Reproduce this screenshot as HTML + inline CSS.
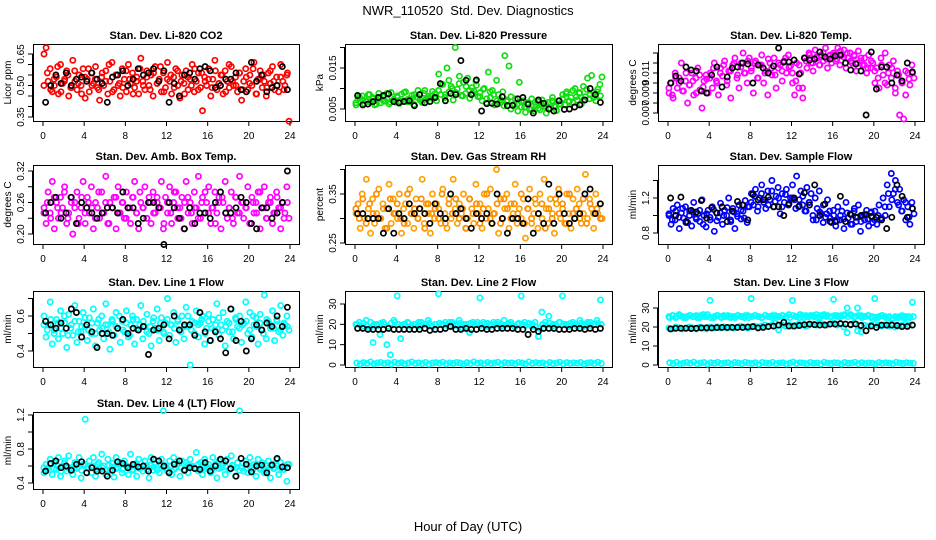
<!DOCTYPE html>
<html><head><meta charset="utf-8"><title>NWR_110520 Std. Dev. Diagnostics</title>
<style>
html,body{margin:0;padding:0;background:#fff;}
svg{display:block;font-family:"Liberation Sans",Arial,sans-serif;}
.ttl{font-size:11px;font-weight:bold;text-anchor:middle;}
.tk{font-size:10px;text-anchor:middle;}
.yl{font-size:10px;text-anchor:middle;}
</style></head>
<body>
<svg id="chart" width="936" height="540" viewBox="0 0 936 540" xmlns="http://www.w3.org/2000/svg">
<rect x="0" y="0" width="936" height="540" fill="#fff"/>
<text x="468" y="15" font-size="13" text-anchor="middle" xml:space="preserve">NWR_110520  Std. Dev. Diagnostics</text>
<text x="468" y="531" font-size="13" text-anchor="middle">Hour of Day (UTC)</text>
</svg>
<script>
const xTickValues=[0,4,8,12,16,20,24];
const co2Vals=[0.65,0.68,0.52,0.58,0.47,0.50,0.54,0.46,0.60,0.51,0.53,0.57,0.45,0.49,0.62,0.52,0.48,0.55,0.50,0.58,0.44,0.53,0.47,0.56,0.51,0.59,0.49,0.43,0.54,0.50,0.57,0.46,0.52,0.61,0.48,0.55,0.50,0.45,0.58,0.53,0.47,0.60,0.51,0.56,0.49,0.54,0.46,0.63,0.52,0.48,0.57,0.50,0.55,0.45,0.59,0.51,0.53,0.47,0.56,0.49,0.61,0.52,0.46,0.54,0.58,0.50,0.44,0.55,0.51,0.57,0.48,0.53,0.60,0.47,0.52,0.56,0.49,0.38,0.54,0.50,0.58,0.45,0.53,0.62,0.48,0.51,0.55,0.46,0.57,0.52,0.49,0.59,0.50,0.54,0.47,0.56,0.43,0.52,0.58,0.48,0.55,0.50,0.61,0.46,0.53,0.57,0.49,0.52,0.45,0.56,0.51,0.59,0.48,0.54,0.47,0.60,0.52,0.50,0.55,0.33];
const co2Vals2=[0.50,0.56,0.48,0.53,0.59,0.47,0.52,0.55,0.49,0.57,0.51,0.46,0.54,0.58,0.50,0.53,0.48,0.56,0.52,0.60,0.47,0.55,0.51,0.49,0.57,0.53,0.46,0.52,0.58,0.50,0.54,0.48,0.56,0.51,0.59,0.47,0.53,0.55,0.49,0.57,0.52,0.46,0.54,0.50,0.58,0.48,0.56,0.52,0.53,0.49,0.57,0.51,0.55,0.47,0.60,0.52,0.50,0.56,0.48,0.54,0.51,0.58,0.46,0.53,0.55,0.49,0.57,0.52,0.50,0.54,0.48,0.56];
const co2Black=[0.42,0.50,0.55,0.51,0.56,0.50,0.53,0.54,0.52,0.56,0.53,0.51,0.42,0.54,0.55,0.57,0.50,0.53,0.58,0.55,0.56,0.58,0.52,0.57,0.42,0.51,0.45,0.55,0.56,0.53,0.58,0.59,0.57,0.49,0.50,0.53,0.53,0.56,0.48,0.47,0.61,0.52,0.55,0.47,0.49,0.50,0.59,0.48];
const presVals=[.0060,.0075,.0068,.0082,.0063,.0070,.0085,.0066,.0078,.0060,.0072,.0088,.0065,.0080,.0069,.0074,.0062,.0090,.0071,.0067,.0078,.0064,.0086,.0070,.0092,.0068,.0075,.0083,.0061,.0079,.0095,.0072,.0066,.0088,.0074,.0081,.0069,.0093,.0077,.0070,.0135,.0085,.0110,.0078,.0150,.0092,.0105,.0072,.0200,.0098,.0130,.0083,.0115,.0088,.0125,.0076,.0102,.0094,.0118,.0080,.0090,.0070,.0100,.0065,.0140,.0078,.0095,.0060,.0120,.0085,.0072,.0092,.0180,.0068,.0155,.0080,.0058,.0075,.0062,.0115,.0055,.0070,.0042,.0065,.0050,.0075,.0045,.0060,.0068,.0048,.0072,.0056,.0040,.0066,.0052,.0078,.0058,.0046,.0070,.0062,.0085,.0060,.0092,.0070,.0078,.0065,.0100,.0072,.0088,.0062,.0105,.0080,.0125,.0075,.0132,.0090,.0070,.0098,.0110,.0128];
const presVals2=[.0065,.0080,.0072,.0068,.0085,.0075,.0062,.0078,.0070,.0088,.0066,.0074,.0082,.0069,.0090,.0073,.0067,.0085,.0078,.0071,.0095,.0076,.0082,.0088,.0095,.0110,.0085,.0120,.0100,.0090,.0112,.0082,.0105,.0095,.0088,.0108,.0080,.0098,.0075,.0092,.0085,.0070,.0065,.0058,.0072,.0050,.0062,.0045,.0068,.0055,.0060,.0048,.0066,.0052,.0058,.0064,.0050,.0070,.0056,.0062,.0075,.0088,.0068,.0095,.0080,.0090,.0072,.0098,.0085,.0078,.0092,.0082];
const presBlack=[.0083,.0060,.0062,.0068,.0078,.0083,.0087,.0068,.0065,.0068,.0070,.0058,.0085,.0065,.0068,.0078,.0112,.0070,.0088,.0085,.0168,.0120,.0085,.0121,.0045,.0063,.0064,.0062,.0080,.0058,.0059,.0075,.0078,.0062,.0040,.0072,.0064,.0050,.0045,.0070,.0049,.0050,.0055,.0060,.0072,.0100,.0085,.0066];
const tempVals=[.0090,.0100,.0085,.0110,.0095,.0105,.0120,.0092,.0102,.0080,.0098,.0110,.0088,.0105,.0115,.0093,.0075,.0102,.0108,.0090,.0110,.0095,.0120,.0102,.0088,.0115,.0107,.0122,.0098,.0112,.0085,.0118,.0125,.0105,.0095,.0120,.0130,.0110,.0100,.0125,.0115,.0090,.0122,.0105,.0118,.0128,.0100,.0112,.0088,.0120,.0108,.0125,.0095,.0115,.0118,.0102,.0122,.0110,.0128,.0117,.0100,.0088,.0120,.0095,.0110,.0085,.0125,.0115,.0130,.0120,.0112,.0133,.0125,.0118,.0128,.0122,.0135,.0115,.0127,.0120,.0130,.0122,.0135,.0118,.0128,.0133,.0115,.0125,.0130,.0120,.0127,.0112,.0132,.0122,.0118,.0125,.0110,.0128,.0115,.0120,.0100,.0115,.0095,.0125,.0108,.0130,.0098,.0118,.0105,.0122,.0090,.0112,.0068,.0102,.0064,.0088,.0110,.0098,.0118,.0105];
const tempVals2=[.0095,.0088,.0105,.0100,.0092,.0110,.0098,.0102,.0090,.0108,.0096,.0104,.0105,.0115,.0100,.0110,.0118,.0102,.0112,.0120,.0108,.0116,.0110,.0122,.0112,.0120,.0105,.0118,.0110,.0124,.0115,.0108,.0120,.0112,.0125,.0116,.0110,.0102,.0118,.0095,.0122,.0128,.0120,.0126,.0118,.0130,.0124,.0128,.0128,.0124,.0132,.0126,.0130,.0122,.0128,.0120,.0125,.0118,.0115,.0122,.0112,.0105,.0118,.0100,.0110,.0115,.0095,.0108,.0100,.0112,.0104,.0110];
const tempBlack=[.0100,.0107,.0102,.0116,.0113,.0112,.0092,.0090,.0108,.0116,.0096,.0106,.0115,.0116,.0120,.0119,.0100,.0118,.0115,.0110,.0117,.0135,.0121,.0121,.0123,.0109,.0125,.0123,.0124,.0131,.0126,.0124,.0127,.0128,.0120,.0113,.0119,.0112,.0068,.0131,.0094,.0116,.0116,.0100,.0108,.0102,.0120,.0111];
const boxVals=[.25,.22,.28,.24,.30,.21,.26,.23,.27,.25,.29,.22,.24,.27,.20,.26,.28,.23,.25,.30,.22,.27,.24,.29,.21,.26,.25,.23,.28,.24,.31,.22,.26,.25,.27,.21,.29,.24,.26,.23,.28,.25,.22,.27,.30,.24,.21,.26,.25,.29,.23,.27,.22,.28,.24,.26,.25,.30,.21,.27,.24,.29,.22,.26,.28,.23,.25,.27,.21,.30,.24,.26,.22,.28,.25,.31,.23,.27,.24,.26,.29,.22,.25,.28,.24,.27,.21,.26,.30,.23,.25,.28,.22,.27,.24,.31,.26,.23,.25,.29,.22,.27,.24,.26,.28,.21,.25,.29,.23,.26,.27,.22,.24,.28,.25,.21,.26,.24,.29,.23];
const boxVals2=[.24,.26,.23,.27,.25,.24,.28,.23,.26,.25,.22,.27,.24,.26,.25,.23,.28,.24,.26,.22,.25,.27,.24,.26,.23,.25,.27,.24,.28,.25,.23,.26,.24,.27,.25,.22,.26,.24,.28,.25,.23,.26,.27,.24,.25,.23,.26,.28,.24,.25,.22,.26,.27,.24,.25,.23,.27,.24,.26,.25,.22,.26,.24,.28,.25,.23,.26,.24,.27,.25,.23,.26];
const boxBlack=[.24,.26,.27,.23,.24,.27,.22,.26,.25,.24,.23,.24,.25,.25,.24,.28,.25,.25,.22,.23,.26,.26,.25,.18,.26,.25,.23,.21,.25,.22,.24,.24,.23,.26,.28,.24,.24,.25,.27,.26,.22,.21,.25,.25,.23,.24,.26,.32];
const rhVals=[.31,.33,.28,.35,.30,.38,.32,.27,.34,.29,.31,.36,.30,.33,.28,.32,.37,.29,.34,.31,.30,.35,.27,.32,.33,.29,.36,.31,.28,.34,.30,.32,.38,.29,.33,.31,.27,.35,.30,.33,.32,.29,.36,.31,.28,.34,.30,.38,.32,.29,.33,.31,.35,.28,.30,.34,.32,.29,.37,.31,.33,.28,.35,.30,.32,.36,.29,.31,.40,.27,.34,.30,.32,.35,.28,.33,.31,.37,.29,.32,.30,.34,.26,.32,.36,.29,.31,.33,.28,.35,.30,.38,.32,.29,.34,.31,.27,.33,.36,.30,.32,.29,.35,.31,.28,.34,.30,.36,.33,.29,.31,.39,.30,.34,.32,.28,.35,.31,.33,.30];
const rhVals2=[.32,.30,.34,.29,.33,.31,.35,.30,.32,.28,.34,.31,.33,.30,.29,.35,.31,.32,.30,.34,.28,.33,.31,.32,.30,.35,.29,.33,.31,.34,.30,.32,.28,.34,.31,.33,.29,.32,.35,.30,.31,.33,.29,.34,.32,.30,.33,.31,.35,.29,.32,.30,.34,.31,.33,.28,.32,.30,.34,.31,.33,.29,.35,.31,.32,.30,.34,.29,.33,.31,.32,.30];
const rhBlack=[.31,.31,.30,.30,.30,.27,.32,.27,.31,.30,.33,.31,.32,.31,.29,.33,.31,.30,.35,.31,.32,.30,.28,.31,.30,.31,.29,.35,.30,.27,.30,.30,.29,.34,.27,.31,.29,.37,.29,.35,.31,.29,.30,.31,.35,.36,.31,.33];
const flowVals=[1.00,0.90,1.08,0.95,1.12,0.85,1.03,0.97,1.10,0.92,1.05,0.88,1.15,0.98,1.02,0.93,1.18,1.00,0.87,1.06,0.95,1.10,0.82,1.03,0.98,1.14,0.90,1.06,1.00,1.20,0.93,1.08,0.85,1.02,1.12,0.96,1.05,1.17,0.92,1.10,1.25,1.12,1.30,1.05,1.20,1.35,1.15,1.08,1.28,1.18,1.40,1.10,1.22,1.32,1.02,1.25,1.15,1.30,1.12,1.20,1.35,1.18,1.45,1.10,1.28,1.22,1.05,1.32,1.15,1.25,0.95,1.20,1.08,1.28,1.02,1.12,0.98,1.18,1.05,0.92,1.00,0.88,1.10,0.95,1.05,0.85,1.15,0.97,1.02,0.90,1.08,0.93,1.12,0.82,1.00,0.95,1.06,0.88,1.03,0.92,1.05,0.90,1.12,0.97,1.20,1.00,1.35,1.10,1.48,1.25,1.40,1.15,1.30,1.05,1.18,0.95,1.10,0.90,1.15,1.02];
const flowVals2=[1.02,0.95,1.05,0.98,1.08,0.92,1.00,1.04,0.96,1.06,0.90,1.02,0.98,1.07,0.94,1.03,1.00,1.09,0.95,1.04,0.99,1.06,0.97,1.10,1.15,1.22,1.10,1.25,1.18,1.12,1.28,1.16,1.20,1.10,1.24,1.14,1.20,1.08,1.18,1.12,1.05,1.15,1.00,0.95,1.04,0.92,1.02,0.97,1.06,0.94,1.00,0.96,1.03,0.90,1.05,0.98,0.93,1.01,0.96,1.04,0.95,1.00,0.97,1.10,1.25,1.18,1.30,1.12,1.05,1.15,0.98,1.08];
const flowBlack=[1.20,1.00,1.21,0.93,1.06,1.04,1.17,0.97,1.09,1.03,1.10,0.93,1.05,1.16,1.12,0.95,1.24,1.18,1.18,1.21,1.10,1.10,1.00,1.13,1.20,1.11,1.26,1.12,1.35,1.00,1.13,0.93,0.93,1.22,0.93,1.01,0.98,1.00,1.01,0.99,0.98,0.95,0.85,0.98,1.35,1.22,0.98,1.08];
const line1Vals=[.60,.48,.55,.68,.44,.52,.58,.47,.63,.50,.56,.42,.61,.53,.49,.66,.45,.57,.51,.62,.54,.46,.59,.50,.64,.43,.56,.52,.60,.47,.67,.55,.41,.58,.49,.62,.53,.45,.57,.51,.63,.48,.55,.60,.44,.58,.52,.66,.47,.54,.61,.50,.43,.57,.53,.64,.46,.59,.51,.56,.70,.49,.55,.62,.45,.58,.52,.60,.47,.65,.54,.32,.57,.50,.63,.48,.56,.60,.44,.53,.61,.46,.58,.52,.67,.49,.55,.62,.43,.57,.51,.64,.47,.59,.54,.60,.45,.56,.68,.50,.62,.48,.55,.59,.44,.61,.52,.72,.47,.57,.53,.63,.46,.58,.51,.66,.49,.55,.60,.52];
const line1Vals2=[.55,.52,.58,.50,.56,.53,.60,.49,.55,.57,.51,.54,.59,.52,.56,.50,.58,.53,.55,.51,.57,.54,.60,.52,.56,.49,.58,.53,.55,.57,.51,.54,.59,.52,.56,.50,.58,.55,.53,.57,.51,.54,.60,.52,.56,.55,.58,.50,.57,.53,.55,.59,.52,.54,.56,.51,.58,.53,.55,.57,.52,.60,.54,.56,.50,.58,.55,.53,.57,.52,.56,.54];
const line1Black=[.57,.55,.53,.56,.53,.64,.62,.48,.55,.51,.42,.50,.50,.49,.53,.58,.50,.53,.52,.54,.38,.52,.53,.55,.47,.60,.52,.55,.55,.49,.62,.51,.46,.51,.47,.39,.64,.46,.57,.40,.47,.55,.52,.56,.54,.60,.54,.65];
const line2Upper=[20,21,19,22,18,11,20,15,21,10,5,22,34,13,20,21,19,20,19,21,20,22,19,20,35,20,21,19,21,20,22,18,20,16,21,20,33,21,19,20,21,20,19,22,20,21,19,20,34,21,20,19,21,14,26,21,24,19,20,21,34,20,19,21,20,22,19,20,21,20,22,32];
const line2Upper2=[20,19.5,20.5,19,21,20,19.5,20.5,20,19,20.5,21,20,19.5,20,20.5,19.5,20,21,19.5,20,20.5,19,20,20.5,20,19.5,21,20,19.5,20.5,20,19,20.5,20,21,19.5,20,20.5,19.5,20,21,20,19.5,20.5,20,19,20.5,20,19.5,20.5,20,19,18,20,19.5,20.5,20,19.5,21,20,19.5,20.5,20,19,20.5,20,21,19.5,20,20.5,20];
const line2Lower=[1,0.5,1.2,0.8,1.5,0.6,1,1.3,0.7,1.1,0.5,1.4,0.9,1.2,0.6,1,1.5,0.8,1.1,0.7,1.3,0.5,1,1.2,0.9,1.4,0.6,1.1,0.8,1.3,1,0.5,1.2,0.7,1.5,0.9,1.1,0.6,1.3,0.8,1,1.4,0.5,1.2,0.9,1.1,0.7,1.3,1,0.6,1.5,0.8,1.2,0.9,1.1,0.5,1.3,0.7,1,1.4,0.6,1.2,0.8,1.1,0.9,1.3,0.5,1,1.2,0.7,1.4,0.8];
const line2Black=[18,18,17.5,17.5,17.5,17.5,18,17.5,17.5,17.5,17.5,17.5,17.5,18,17,17.5,17.5,18,19,17.5,17.5,18,17.5,17.5,18,17.5,17.5,18,18,18,18,17.5,17.5,15,17.5,16.5,18,18,18,17.5,17.5,17.5,18,18,17.5,18,17.5,18];
const line3Upper=[25.5,26,25,26.5,25.5,25,26,25.5,26,25,26.5,25.5,34,25,26,25.5,26,25.5,25,25.5,26,25.5,25,26,35,26,25.5,25,26,25.5,25,26,25.5,26,25,26.5,34,25.5,25,26,26,25.5,26,26.5,25,26,25.5,25.5,34.5,26,25.5,26,30,26.5,25.5,30,26,25.5,26,25,35,25,26,25.5,25,24,25.5,25,26,25,25.5,33];
const line3Upper2=[25,26,25.5,26,25,25.5,26,25.5,25,26,25.5,26.5,25,25.5,26,25,25.5,26,25.5,25,26,25.5,26,25,25.5,26,25.5,25,26,25.5,26,25,25.5,26,25.5,25,26,25.5,26.5,25,25.5,26,25.5,25,26,26.5,26,25.5,26,25.5,26,26.5,25.5,26,25.5,26,25,25.5,26,25.5,25,25.5,26,25,25.5,24.5,25,25.5,25,25.5,25,25.5];
const line3Mid=[19.5,19,20,19.5,19,19.5,20,19.5,19,20,19.5,19,20,19.5,20,19.5,20,19.5,20,19.5,20,20.5,20,19.5,20,20.5,20,20.5,21,20.5,21,22,18.5,21,20.5,21,20.5,21,21.5,21,20.5,21,21.5,21,22,21.5,21,21.5,22,21,21.5,20,17,21,22,18,17.5,21,20.5,21,21.5,21,20.5,21,20.5,21,20,20.5,21,21.5,21,21];
const line3Lower=[1.2,0.8,1.4,0.6,1,1.3,0.9,1.5,0.7,1.1,1.3,0.5,1.2,0.9,1.4,0.8,1,1.2,0.6,1.3,1.1,0.7,1.4,1,0.8,1.2,0.5,1.3,1,0.9,1.4,0.7,1.1,1.2,0.6,1,1.5,0.8,1.2,1,0.7,1.3,0.9,1.1,0.6,1.4,1,0.8,1.2,1.1,0.5,1.3,0.9,1,1.4,0.7,1.2,0.8,1.1,1,0.6,1.3,0.9,1.2,1,0.7,1.4,1.1,0.8,1.2,1,0.9];
const line3Black=[19,19.3,19.3,19.3,19.2,19.3,19.5,19.6,19.5,19.7,19.8,19.8,19.8,19.8,19.8,20,20.2,19.5,19.8,20.2,20.5,21,22.5,20.5,20.5,20.8,21.2,21.5,21.2,21,21,21.5,21.5,21.8,21.5,21.3,21.5,20.8,18,20.5,19.8,21,21,21,20.8,20.2,20.3,21];
const line4Vals=[.52,.62,.58,.68,.50,.64,.56,.70,.48,.60,.66,.54,.72,.58,.50,.64,.57,.70,.46,.62,1.15,.58,.66,.52,.70,.48,.62,.56,.74,.60,.50,.68,.55,.63,.47,.70,.58,.64,.52,.66,.60,.50,.74,.56,.62,.48,.68,.58,.54,.66,.60,.46,.70,.55,.63,.58,.52,.68,1.25,.60,.54,.66,.50,.70,.58,.62,.48,.66,.56,.64,.52,.68,.60,.58,.76,.54,.64,.50,.68,.57,.62,.52,.70,.60,.46,.66,.58,.63,.50,.68,.56,.72,.60,.48,.64,1.25,.58,.54,.66,.52,.70,.58,.62,.48,.68,.56,.64,.52,.60,.66,.46,.62,.58,.68,.50,.64,.56,.60,.42,.62];
const line4Vals2=[.58,.55,.62,.57,.60,.54,.63,.58,.56,.61,.59,.55,.62,.57,.60,.56,.64,.58,.55,.61,.59,.57,.62,.56,.60,.58,.55,.63,.57,.60,.56,.61,.59,.55,.62,.58,.57,.60,.56,.63,.58,.55,.61,.59,.57,.62,.56,.60,.58,.55,.62,.57,.60,.59,.56,.61,.58,.55,.63,.57,.60,.56,.62,.58,.59,.55,.61,.57,.60,.58,.56,.62];
const line4Black=[.54,.63,.66,.58,.60,.55,.62,.65,.52,.58,.54,.54,.48,.55,.65,.63,.58,.62,.59,.60,.54,.68,.66,.60,.52,.62,.66,.55,.58,.57,.56,.64,.54,.60,.68,.66,.57,.48,.69,.62,.53,.60,.61,.52,.61,.69,.59,.58];
</script>
<script>
const SVGNS="http://www.w3.org/2000/svg";
const svg=document.getElementById('chart');
const colL=[33,345,658], colR=[299,612,924];
const rowT=[44,165,291,412], rowB=[121,244,367,489];
const panels=[
 {name:'co2',title:'Stan. Dev. Li-820 CO2',ylab:'Licor ppm',c:0,r:0,vA:0.35,pA:117,vB:0.65,pB:54,ticks:[0.35,0.40,0.45,0.50,0.55,0.60,0.65],labels:['0.35','0.50','0.65'],labelVals:[0.35,0.50,0.65],series:[[co2Vals,'#ff0000'],[co2Vals2,'#ff0000']],black:co2Black},
 {name:'pressure',title:'Stan. Dev. Li-820 Pressure',ylab:'kPa',c:1,r:0,vA:0.005,pA:109,vB:0.015,pB:68,ticks:[0.005,0.010,0.015,0.020],labels:['0.005','0.015'],labelVals:[0.005,0.015],series:[[presVals,'#11dd11'],[presVals2,'#11dd11']],black:presBlack},
 {name:'li820-temp',title:'Stan. Dev. Li-820 Temp.',ylab:'degrees C',c:2,r:0,vA:0.007,pA:113,vB:0.011,pB:73,ticks:[0.007,0.008,0.009,0.010,0.011,0.012,0.013],labels:['0.007','0.009','0.011'],labelVals:[0.007,0.009,0.011],series:[[tempVals,'#ff00ff'],[tempVals2,'#ff00ff']],black:tempBlack},
 {name:'amb-box-temp',title:'Stan. Dev. Amb. Box Temp.',ylab:'degrees C',c:0,r:1,vA:0.20,pA:234,vB:0.32,pB:171,ticks:[0.20,0.23,0.26,0.29,0.32],labels:['0.20','0.26','0.32'],labelVals:[0.20,0.26,0.32],series:[[boxVals,'#ff00ff'],[boxVals2,'#ff00ff']],black:boxBlack},
 {name:'gas-stream-rh',title:'Stan. Dev. Gas Stream RH',ylab:'percent',c:1,r:1,vA:0.25,pA:243,vB:0.35,pB:194,ticks:[0.25,0.30,0.35,0.40],labels:['0.25','0.35'],labelVals:[0.25,0.35],series:[[rhVals,'#ffa000'],[rhVals2,'#ff8c00']],black:rhBlack},
 {name:'sample-flow',title:'Stan. Dev. Sample Flow',ylab:'ml/min',c:2,r:1,vA:0.8,pA:233,vB:1.2,pB:198,ticks:[0.8,1.0,1.2,1.4],labels:['0.8','1.2'],labelVals:[0.8,1.2],series:[[flowVals,'#0000ff'],[flowVals2,'#0000ff']],black:flowBlack},
 {name:'line1-flow',title:'Stan. Dev. Line 1 Flow',ylab:'ml/min',c:0,r:2,vA:0.4,pA:351,vB:0.6,pB:316,ticks:[0.4,0.5,0.6,0.7],labels:['0.4','0.6'],labelVals:[0.4,0.6],series:[[line1Vals,'#00ffff'],[line1Vals2,'#00ffff']],black:line1Black},
 {name:'line2-flow',title:'Stan. Dev. Line 2 Flow',ylab:'ml/min',c:1,r:2,vA:0,pA:365,vB:30,pB:304,ticks:[0,10,20,30],labels:['0','10','20','30'],labelVals:[0,10,20,30],series:[[line2Lower,'#00ffff'],[line2Upper,'#00ffff'],[line2Upper2,'#00ffff']],black:line2Black},
 {name:'line3-flow',title:'Stan. Dev. Line 3 Flow',ylab:'ml/min',c:2,r:2,vA:0,pA:365,vB:30,pB:308,ticks:[0,10,20,30],labels:['0','10','20','30'],labelVals:[0,10,20,30],series:[[line3Lower,'#00ffff'],[line3Upper,'#00ffff'],[line3Upper2,'#00ffff'],[line3Mid,'#00ffff']],black:line3Black},
 {name:'line4-flow',title:'Stan. Dev. Line 4 (LT) Flow',ylab:'ml/min',c:0,r:3,vA:0.4,pA:483,vB:1.2,pB:415,ticks:[0.4,0.6,0.8,1.0,1.2],labels:['0.4','0.8','1.2'],labelVals:[0.4,0.8,1.2],series:[[line4Vals,'#00ffff'],[line4Vals2,'#00ffff']],black:line4Black}
];
function mk(tag,attrs,parent){const e=document.createElementNS(SVGNS,tag);for(const k in attrs)e.setAttribute(k,attrs[k]);(parent||svg).appendChild(e);return e;}
panels.forEach(p=>{
  const L=colL[p.c],R=colR[p.c],T=rowT[p.r],B=rowB[p.r];
  const x0=L+10,x1=R-9;
  const xScale=h=>x0+h/24*(x1-x0);
  const yScale=v=>p.pA+(v-p.vA)*(p.pB-p.pA)/(p.vB-p.vA);
  const g=mk('g',{});
  
  
  const t=mk('text',{x:(L+R)/2,y:T-5,class:'ttl'},g);t.textContent=p.title;
  
  
  const yl=mk('text',{x:0,y:0,class:'yl',transform:`translate(${L-22},${(T+B)/2}) rotate(-90)`},g);yl.textContent=p.ylab;
  
  
  const xa=mk('g',{stroke:'#000','stroke-width':1},g);
  
  
  mk('line',{x1:xScale(0),x2:xScale(24),y1:B+0.5,y2:B+0.5},xa);
  xTickValues.forEach(h=>{
    mk('line',{x1:xScale(h),x2:xScale(h),y1:B,y2:B+5},xa);
    const tl=mk('text',{x:xScale(h),y:B+18,class:'tk',stroke:'none'},g);tl.textContent=h;
    
    
  });
  const ya=mk('g',{stroke:'#000','stroke-width':1},g);
  
  
  const tp=p.ticks.map(yScale).filter(y=>y>=T-1&&y<=B+1);
  mk('line',{x1:L-0.5,x2:L-0.5,y1:Math.min(...tp),y2:Math.max(...tp)},ya);
  tp.forEach(y=>mk('line',{x1:L-5,x2:L,y1:y,y2:y},ya));
  p.labelVals.forEach((v,i)=>{
    const y=yScale(v);
    const tl=mk('text',{x:0,y:0,class:'tk',transform:`translate(${L-9},${y}) rotate(-90)`},g);tl.textContent=p.labels[i];
    
    
  });
  const bx=mk('rect',{x:L+0.5,y:T+0.5,width:R-L,height:B-T,fill:'none',stroke:'#000','stroke-width':1},g);
  
  
  const draw=(vals,col,nm,off)=>{
    const sg=mk('g',{fill:'none',stroke:col,'stroke-width':1.7},g);
    
    
    const n=vals.length;
    vals.forEach((v,i)=>{
      const h=(i+off)/n*24;
      const c=mk('circle',{cx:xScale(h).toFixed(1),cy:yScale(+v).toFixed(1),r:2.6},sg);
      
      
    });
  };
  p.series.forEach((s,i)=>draw(s[0],s[1],'series-colored-'+i,i%2?0.25:0.5));
  draw(p.black,'#000','series-black',0.5);
});
</script>
</body></html>
